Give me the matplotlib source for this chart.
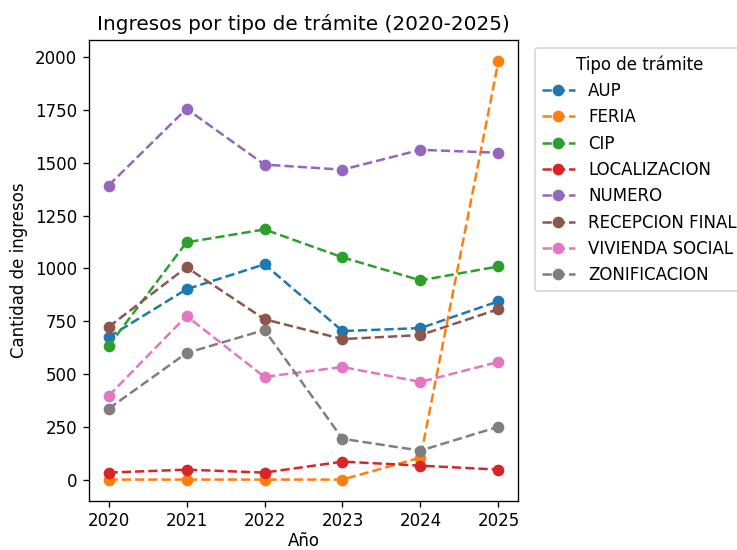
import matplotlib
matplotlib.use('Agg')
import matplotlib.pyplot as plt

# Años y valores por tipo de trámite
years = [2020, 2021, 2022, 2023, 2024, 2025]
tipos = ['AUP', 'FERIA', 'CIP', 'LOCALIZACION', 'NUMERO',
         'RECEPCION FINAL', 'VIVIENDA SOCIAL', 'ZONIFICACION']

aup = [674, 901, 1019, 703, 717, 844]
feria = [0, 0, 0, 0, 104, 1981]
cip = [632, 1123, 1184, 1052, 943, 1009]
localizacion = [33, 47, 33, 85, 66, 47]
numero = [1392, 1755, 1491, 1467, 1561, 1547]
recepcion_final = [722, 1005, 759, 665, 684, 807]
vivienda_social = [396, 774, 486, 533, 462, 557]
zonificacion = [335, 599, 708, 193, 137, 250]

series = [aup, feria, cip, localizacion, numero,
          recepcion_final, vivienda_social, zonificacion]

# figura pequeña a dpi 120 -> 737x550 px
fig = plt.figure(figsize=(737 / 120, 550 / 120), dpi=120)
ax = fig.add_axes([0.1208, 0.0900, 0.582, 0.8370])

for tipo, values in zip(tipos, series):
    ax.plot(years, values, linestyle='--', marker='o', label=tipo)

ax.set_title('Ingresos por tipo de trámite (2020-2025)')
ax.set_xlabel('Año', labelpad=1)
ax.set_ylabel('Cantidad de ingresos')
ax.set_xticks(years)

ax.legend(title='Tipo de trámite', bbox_to_anchor=(1.02, 1), loc='upper left')

plt.savefig('out.png', dpi=120)
